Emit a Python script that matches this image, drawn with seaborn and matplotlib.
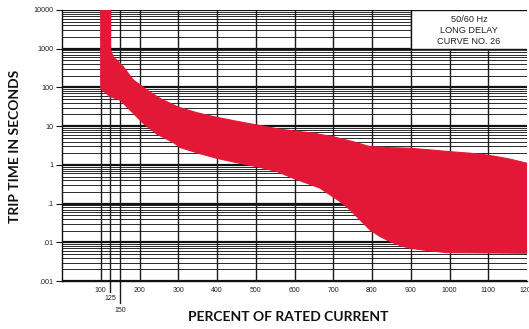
import numpy as np
import matplotlib
matplotlib.use("Agg")
import matplotlib.pyplot as plt
import seaborn as sns
import pandas as pd

# ---- data ----
upper_pct = [125, 125, 132, 158, 184, 219, 253, 300, 348, 391, 447, 503, 563, 649,
             700, 750, 795, 847, 898, 950, 1002, 1053, 1097, 1131, 1157, 1200]
upper_sec = [10000, 930, 625, 345, 156, 86, 52, 31, 22.3, 17.6, 13.6, 10.7, 8.3, 6.6,
             5.3, 4.0, 2.95, 2.78, 2.69, 2.43, 2.19, 2.0, 1.80, 1.57, 1.40, 1.10]

lower_pct = [100, 100, 124, 150, 183, 209, 245, 287, 305, 352, 399, 450, 503, 555,
             597, 632, 666, 692, 718, 744, 769, 795, 821, 847, 873, 898, 950, 993, 1200]
lower_sec = [10000, 92, 58, 47, 22, 12, 6.2, 3.8, 2.8, 2.0, 1.48, 1.14, 0.90, 0.67,
             0.45, 0.335, 0.25, 0.167, 0.112, 0.068, 0.038, 0.0208, 0.014, 0.0104,
             0.0082, 0.0070, 0.0060, 0.0054, 0.0052]

x_ticks = [100, 200, 300, 400, 500, 600, 700, 800, 900, 1000, 1100, 1200]
x_extra = [125, 150]
y_ticks = [0.001, 0.01, 0.1, 1, 10, 100, 1000, 10000]
y_labels = [".001", ".01", ".1", "1", "10", "100", "1000", "10000"]
box_text = "50/60 Hz\nLONG DELAY\nCURVE NO. 26"

RED = "#E31837"

sns.set_theme(style="white")
plt.rcParams["font.family"] = ["Liberation Sans", "DejaVu Sans"]

fig = plt.figure(figsize=(5.29, 3.29), dpi=100)
W, H = 529, 329
ax = fig.add_axes([62 / W, 1 - 281 / H, (527 - 62) / W, (281 - 10) / H])
ax.set_yscale("log")
ax.set_xlim(0, 1200)
ax.set_ylim(0.001, 10000)

# grid
for d in range(-3, 4):
    for m in range(2, 10):
        ax.axhline(m * 10 ** d, color="#2a2a2a", lw=0.7, zorder=1)
for v in y_ticks:
    ax.axhline(v, color="#111111", lw=1.6, zorder=1)
for v in x_ticks[:-1]:
    ax.axvline(v, color="#1a1a1a", lw=1.0, zorder=1)
for v, ext in zip(x_extra, [-0.04, -0.08]):
    ax.axvline(v, ymin=ext, ymax=1, color="#1a1a1a", lw=1.0, zorder=1, clip_on=False)

# band
upper = pd.DataFrame({"pct": upper_pct, "sec": upper_sec})
lower = pd.DataFrame({"pct": lower_pct, "sec": lower_sec})
poly_x = np.concatenate([upper["pct"].values, lower["pct"].values[::-1]])
poly_y = np.concatenate([upper["sec"].values, lower["sec"].values[::-1]])
ax.fill(poly_x, poly_y, color=RED, lw=0, zorder=3)
sns.lineplot(data=upper, x="pct", y="sec", ax=ax, color=RED, lw=0.8, sort=False,
             estimator=None, zorder=3)
sns.lineplot(data=lower, x="pct", y="sec", ax=ax, color=RED, lw=0.8, sort=False,
             estimator=None, zorder=3)

# info box
ax.fill([900, 1200, 1200, 900], [1000, 1000, 10000, 10000], color="white", zorder=4)
ax.plot([900, 900, 1200], [10000, 1000, 1000], color="#111111", lw=1.0, zorder=5)
ax.plot([900, 1200], [10000, 10000], color="#111111", lw=1.0, zorder=5)
ax.text(1050, 10 ** 3.47, box_text, ha="center", va="center", fontsize=6.6,
        linespacing=1.25, color="#222222", zorder=6)

# ticks
ax.set_xticks(x_ticks)
ax.set_xticklabels([str(v) for v in x_ticks], fontsize=5, color="#222222")
ax.set_yticks(y_ticks)
ax.set_yticklabels(y_labels, fontsize=5.2, color="#222222")
ax.minorticks_off()
ax.tick_params(axis="x", length=0, pad=4)
ax.tick_params(axis="y", length=4, width=0.8, pad=2, left=True, color="#111111")
for v, yy in zip(x_extra, [-0.065, -0.108]):
    ax.text(v, yy, str(v), transform=ax.get_xaxis_transform(), ha="center", va="center",
            fontsize=5, color="#222222")

for s in ["top", "right"]:
    ax.spines[s].set_visible(False)
ax.spines["left"].set_color("#111111")
ax.spines["left"].set_linewidth(1.0)
ax.spines["bottom"].set_color("#111111")
ax.spines["bottom"].set_linewidth(1.0)
ax.set_xlabel("")
ax.set_ylabel("")

fig.text(288 / W, 1 - 317 / H, "PERCENT OF RATED CURRENT", ha="center", va="center",
         fontsize=10, fontweight="bold", family=["Lato", "DejaVu Sans"], color="#111111")
fig.text(15 / W, 1 - 146 / H, "TRIP TIME IN SECONDS", ha="center", va="center",
         rotation=90, fontsize=10, fontweight="bold", family=["Lato", "DejaVu Sans"],
         color="#111111")

fig.savefig("out.png", dpi=100)
